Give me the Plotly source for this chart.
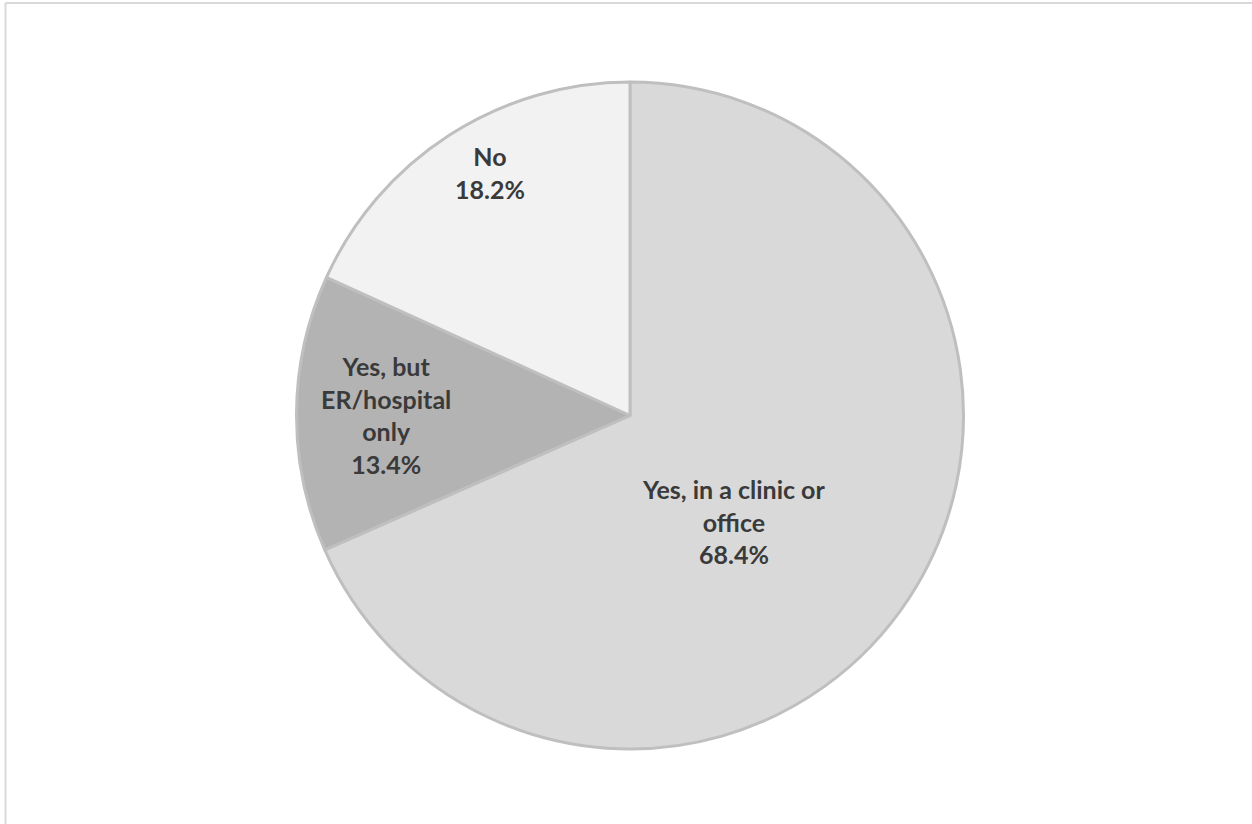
import plotly.graph_objects as go

# Data
categories = ["Yes, in a clinic or office", "Yes, but ER/hospital only", "No"]
display_labels = ["Yes, in a clinic or<br>office", "Yes, but<br>ER/hospital<br>only", "No"]
values = [68.4, 13.4, 18.2]
colors = ["#D9D9D9", "#B3B3B3", "#F2F2F2"]

# label anchor positions (paper coords)
label_x = [0.5828, 0.3039, 0.3875]
label_y = [0.3418, 0.5007, 0.865]

W, H = 1252, 824
L, R, T, B = 8, 0, 82, 75
pw, ph = W - L - R, H - T - B

def px(x):
    return (x - L) / pw

def py(y):
    return 1 - (y - T) / ph

fig = go.Figure(
    go.Pie(
        labels=categories,
        values=values,
        sort=False,
        direction="clockwise",
        rotation=0,
        marker=dict(colors=colors, line=dict(color="#BFBFBF", width=3)),
        textinfo="none",
        hoverinfo="label+percent",
        showlegend=False,
    )
)

for lab, v, x, y in zip(display_labels, values, label_x, label_y):
    fig.add_annotation(
        x=x, y=y, xref="paper", yref="paper",
        text=f"<b>{lab}<br>{v:.1f}%</b>",
        showarrow=False,
        font=dict(family="Lato, Open Sans, sans-serif", size=25, color="#3A3A3A"),
        align="center",
        xanchor="center", yanchor="middle",
    )

# outer chart frame (top and left edges visible)
fig.add_shape(type="line", xref="paper", yref="paper",
              x0=px(5.5), x1=px(1252), y0=py(3), y1=py(3),
              line=dict(color="#D9D9D9", width=2))
fig.add_shape(type="line", xref="paper", yref="paper",
              x0=px(5.5), x1=px(5.5), y0=py(3), y1=py(824),
              line=dict(color="#D9D9D9", width=2))

fig.update_layout(
    width=W, height=H,
    margin=dict(l=L, r=R, t=T, b=B),
    paper_bgcolor="white",
    plot_bgcolor="white",
)

fig.write_html("out.html")
